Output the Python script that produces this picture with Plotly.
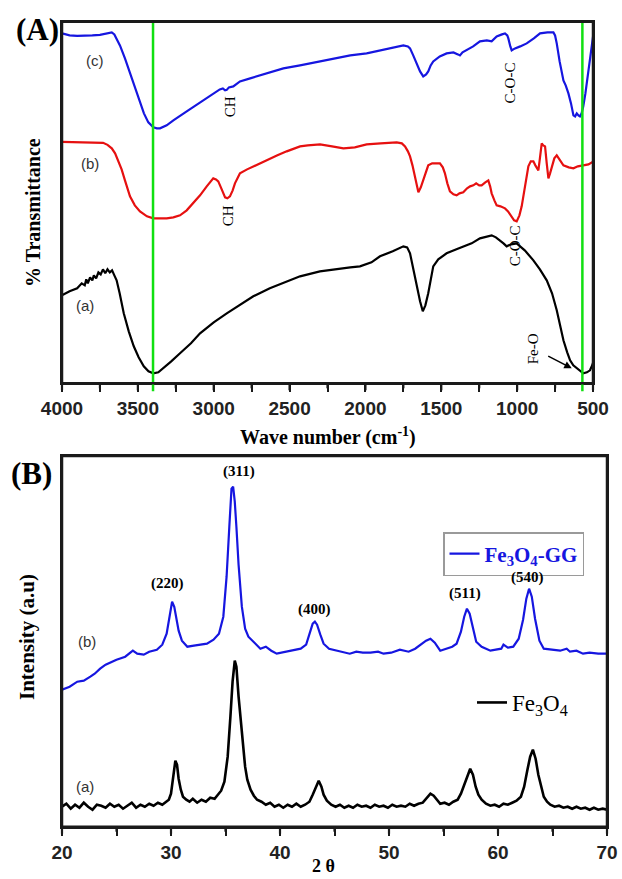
import plotly.graph_objects as go

# ---------------- Panel A : FTIR (arbitrary transmittance units) ----------------
IR_WN_A = [4000, 3950, 3900, 3870, 3850, 3840, 3830, 3815, 3800, 3790, 3775, 3760, 3745, 3730,
           3715, 3700, 3685, 3670, 3655, 3640, 3620, 3593, 3560, 3527, 3495, 3461, 3430, 3398,
           3365, 3332, 3280, 3222, 3150, 3090, 3000, 2914, 2820, 2739, 2630, 2519, 2431, 2300,
           2212, 2100, 2036, 1960, 1904, 1820, 1750, 1725, 1706, 1690, 1675, 1662, 1640, 1622,
           1605, 1586, 1570, 1553, 1520, 1465, 1400, 1333, 1300, 1245, 1200, 1168, 1140, 1113,
           1090, 1069, 1040, 1003, 950, 893, 850, 805, 770, 739, 715, 695, 670, 651, 630, 607,
           585, 564, 540, 520, 505, 497]
IR_T_A = [88, 92, 95, 100, 98, 104, 100, 106, 103, 108, 105, 111, 109, 114,
          110, 114, 111, 113, 108, 103, 90, 70, 52, 37, 26, 17, 12, 10,
          11, 15, 22, 30, 40, 50, 61, 70, 79, 87, 95, 102, 107, 112,
          114, 116, 117, 121, 127, 132, 137, 136, 130, 118, 105, 97, 82, 72,
          78, 90, 105, 117, 124, 130, 134, 138, 140, 145, 147, 148, 146, 143,
          140, 137, 139, 140, 133, 123, 114, 103, 90, 73, 58, 43, 31, 23, 18, 15,
          12, 10, 11, 13, 18, 22]

IR_WN_B = [4000, 3900, 3800, 3729, 3700, 3672, 3650, 3629, 3607, 3585, 3552, 3520, 3486, 3440,
           3398, 3350, 3310, 3266, 3222, 3178, 3134, 3090, 3046, 3020, 3003, 2985, 2970, 2950,
           2925, 2910, 2893, 2875, 2860, 2840, 2827, 2780, 2739, 2700, 2651, 2580, 2519, 2431,
           2380, 2299, 2220, 2145, 2070, 1992, 1900, 1794, 1760, 1739, 1720, 1706, 1690, 1673,
           1660, 1651, 1635, 1619, 1600, 1586, 1560, 1530, 1509, 1490, 1476, 1460, 1443, 1420,
           1399, 1380, 1355, 1330, 1310, 1289, 1270, 1250, 1234, 1210, 1190, 1178, 1168, 1150,
           1135, 1110, 1080, 1060, 1036, 1020, 1003, 985, 970, 950, 926, 910, 893, 880, 860,
           850, 838, 828, 816, 805, 794, 783, 772, 755, 739, 720, 695, 660, 629, 600, 564, 530, 497]
IR_T_B = [241.5, 241, 240.8, 240.5, 238.5, 235, 230, 223, 214, 203, 187, 178, 172, 167,
          165, 165, 165, 166, 168, 173, 180, 188, 197, 202, 205, 204, 202, 195,
          186, 185, 187, 193, 200, 206, 210, 214, 217, 220, 223, 228, 232, 237,
          238, 239, 237, 235, 236, 239, 240, 241, 240, 237, 232, 227, 218, 207,
          196, 191, 196, 203, 212, 218, 220, 220, 220, 216, 210, 200, 192, 189,
          188, 190, 191, 195, 197, 198, 200, 198, 198, 201, 203, 197, 190, 183,
          178, 177, 175, 172, 167, 163, 162, 168, 177, 195, 217, 222, 222, 218, 213,
          225, 240, 238, 237, 220, 205, 210, 217, 225, 228, 224, 218, 216, 215, 217, 218, 219, 222]

IR_WN_C = [4000, 3950, 3900, 3850, 3800, 3750, 3700, 3672, 3655, 3640, 3618, 3585, 3552, 3520,
           3486, 3460, 3431, 3398, 3375, 3354, 3310, 3266, 3178, 3090, 3003, 2960, 2940, 2925,
           2914, 2900, 2871, 2827, 2760, 2695, 2620, 2541, 2431, 2300, 2212, 2100, 1992, 1900,
           1800, 1750, 1720, 1706, 1685, 1662, 1640, 1619, 1600, 1586, 1570, 1553, 1510, 1465,
           1420, 1390, 1377, 1360, 1333, 1290, 1245, 1200, 1168, 1150, 1135, 1100, 1080, 1065,
           1058, 1045, 1036, 1025, 1014, 980, 937, 890, 849, 800, 761, 750, 739, 720, 695, 680,
           662, 645, 629, 618, 607, 596, 586, 575, 564, 550, 531, 515, 497]
IR_T_C = [350, 348, 347.5, 347.5, 348, 348.5, 350, 351, 349, 345, 338, 325, 310, 295,
          280, 270, 261, 256, 255, 255, 258, 263, 272, 281, 290, 294, 295, 293,
          293.5, 296, 297, 302, 305, 308, 312, 315, 318, 322, 325, 328, 330, 333,
          336, 338, 337, 335, 328, 320, 312, 307, 309, 312, 318, 322, 327, 330,
          331, 329, 328, 331, 333, 337, 342, 343, 342, 345, 347, 349, 350, 348,
          345, 337, 333, 334, 335, 337, 340, 345, 350, 351, 351, 348, 340, 322, 303, 298,
          290, 280, 268, 267, 270, 268, 267, 270, 277, 290, 310, 330, 350]

IR_TICK_VALS = [4000, 3750, 3500, 3250, 3000, 2750, 2500, 2250, 2000, 1750, 1500, 1250, 1000, 750, 500]
IR_TICK_TEXT = ["4000", "", "3500", "", "3000", "", "2500", "", "2000", "", "1500", "", "1000", "", "500"]
GREEN_LINES = [3400, 570]

# ---------------- Panel B : XRD (arbitrary intensity units) ----------------
XRD_2T_GG = [20.0, 20.7, 21.4, 22.0, 22.6, 23.0, 23.5, 24.0, 25.0, 25.8, 26.5, 26.9, 27.5, 28.0,
             28.7, 29.2, 29.6, 29.9, 30.1, 30.3, 30.5, 30.7, 31.0, 31.5, 32.1, 32.7, 33.3, 33.9,
             34.4, 34.8, 35.1, 35.35, 35.55, 35.7, 35.85, 36.0, 36.2, 36.5, 36.8, 37.1, 37.6, 38.2,
             38.7, 39.2, 39.7, 40.5, 41.3, 41.9, 42.4, 42.7, 43.0, 43.2, 43.4, 43.7, 44.0, 44.5,
             44.9, 45.6, 46.4, 47.0, 47.6, 48.3, 49.0, 49.5, 50.2, 51.0, 51.8, 52.4, 52.9, 53.4,
             53.8, 54.2, 54.7, 55.3, 55.8, 56.2, 56.6, 56.9, 57.15, 57.4, 57.7, 58.0, 58.5, 59.3,
             59.8, 60.3, 60.5, 60.9, 61.4, 61.9, 62.3, 62.6, 62.85, 63.1, 63.4, 63.8, 64.2, 65.0,
             65.7, 66.3, 66.6, 67.2, 67.8, 68.4, 69.2, 70.0]
XRD_I_GG = [137, 140, 145, 146, 150, 153, 158, 162, 167, 170, 176, 173, 172, 175,
            177, 182, 193, 215, 225, 220, 207, 196, 186, 180, 181, 182, 183, 187,
            193, 210, 250, 300, 338, 340, 325, 300, 262, 220, 198, 190, 185, 178,
            180, 176, 173, 175, 177, 178, 182, 192, 203, 205, 202, 192, 183, 178,
            177, 175, 173, 175, 174, 174, 175, 173, 174, 177, 175, 178, 182, 186,
            188, 184, 176, 178, 180, 183, 195, 210, 218, 213, 198, 185, 180, 176,
            177, 178, 182, 179, 180, 188, 207, 228, 238, 230, 208, 186, 178, 177,
            176, 178, 175, 176, 173, 174, 173, 173]

XRD_2T_FE = [20.0, 20.4, 20.8, 21.2, 21.6, 22.0, 22.4, 22.8, 23.2, 23.6, 24.0, 24.4, 24.8, 25.2,
             25.6, 26.0, 26.4, 26.8, 27.2, 27.6, 28.0, 28.4, 28.8, 29.2, 29.6, 29.8, 30.0, 30.2,
             30.4, 30.55, 30.7, 30.9, 31.1, 31.4, 31.7, 32.0, 32.4, 32.8, 33.2, 33.6, 34.0, 34.3,
             34.6, 34.9, 35.2, 35.45, 35.65, 35.85, 36.0, 36.2, 36.4, 36.6, 36.8, 37.0, 37.3, 37.6,
             37.9, 38.3, 38.7, 39.1, 39.5, 39.9, 40.3, 40.7, 41.1, 41.5, 41.9, 42.3, 42.7, 43.0,
             43.3, 43.55, 43.8, 44.0, 44.3, 44.7, 45.1, 45.5, 45.9, 46.3, 46.7, 47.1, 47.5, 47.9,
             48.3, 48.7, 49.1, 49.5, 49.9, 50.3, 50.7, 51.1, 51.5, 51.9, 52.3, 52.7, 53.1, 53.5,
             53.8, 54.1, 54.4, 54.7, 55.1, 55.5, 55.9, 56.3, 56.6, 56.9, 57.2, 57.45, 57.7, 57.95,
             58.2, 58.5, 58.9, 59.3, 59.7, 60.1, 60.5, 60.9, 61.3, 61.7, 62.1, 62.4, 62.7, 62.95,
             63.2, 63.45, 63.7, 63.95, 64.2, 64.5, 64.8, 65.2, 65.6, 66.0, 66.4, 66.8, 67.2, 67.6,
             68.0, 68.4, 68.8, 69.2, 69.6, 70.0]
XRD_I_FE = [20, 23, 18, 22, 19, 24, 20, 17, 22, 21, 19, 23, 20, 22,
            18, 21, 24, 19, 22, 20, 23, 21, 24, 22, 26, 27, 33, 50,
            66, 62, 48, 37, 30, 27, 25, 28, 24, 27, 25, 29, 28, 32,
            36, 45, 70, 110, 145, 166, 160, 130, 105, 80, 60, 47, 37, 31,
            27, 25, 22, 24, 20, 22, 19, 22, 20, 23, 20, 22, 25, 32,
            40, 46, 40, 32, 26, 22, 20, 22, 19, 21, 19, 22, 20, 21,
            19, 22, 20, 21, 19, 22, 20, 21, 20, 23, 21, 23, 24, 29,
            33, 31, 27, 23, 24, 22, 25, 27, 33, 42, 52, 58, 52, 40,
            32, 27, 23, 21, 22, 20, 23, 22, 24, 26, 30, 40, 57, 70,
            77, 68, 52, 40, 30, 25, 22, 20, 21, 19, 20, 18, 20, 18,
            19, 17, 19, 17, 18, 17]

XRD_TICK_VALS = [20, 25, 30, 35, 40, 45, 50, 55, 60, 65, 70]
XRD_TICK_TEXT = ["20", "", "30", "", "40", "", "50", "", "60", "", "70"]

BLUE = "#1616e0"
RED = "#e61010"
GREEN = "#11e011"
FRAME = "#1a1a1a"

W, H = 622, 879
DOM_AX = [62 / W, 593 / W]
DOM_AY = [1 - 383.3 / H, 1 - 21.7 / H]
DOM_BX = [62 / W, 607 / W]
DOM_BY = [1 - 826.7 / H, 1 - 456 / H]
RANGE_AX = [IR_TICK_VALS[0], IR_TICK_VALS[-1]]
RANGE_BX = [XRD_TICK_VALS[0], XRD_TICK_VALS[-1]]

fig = go.Figure()
fig.add_trace(go.Scatter(x=IR_WN_A, y=IR_T_A, mode="lines", line=dict(color="black", width=2.2),
                         xaxis="x", yaxis="y", showlegend=False))
fig.add_trace(go.Scatter(x=IR_WN_B, y=IR_T_B, mode="lines", line=dict(color=RED, width=2.2),
                         xaxis="x", yaxis="y", showlegend=False))
fig.add_trace(go.Scatter(x=IR_WN_C, y=IR_T_C, mode="lines", line=dict(color=BLUE, width=2.2),
                         xaxis="x", yaxis="y", showlegend=False))
fig.add_trace(go.Scatter(x=XRD_2T_GG, y=XRD_I_GG, mode="lines", line=dict(color=BLUE, width=2.2),
                         xaxis="x2", yaxis="y2", name="<b>Fe<sub>3</sub>O<sub>4</sub>-GG</b>",
                         legend="legend"))
fig.add_trace(go.Scatter(x=XRD_2T_FE, y=XRD_I_FE, mode="lines", line=dict(color="black", width=2.6),
                         xaxis="x2", yaxis="y2", name="Fe<sub>3</sub>O<sub>4</sub>",
                         legend="legend2"))


def to_paper(v, rng, dom):
    return dom[0] + (v - rng[0]) / (rng[1] - rng[0]) * (dom[1] - dom[0])


for v in GREEN_LINES:
    xp = to_paper(v, RANGE_AX, DOM_AX)
    fig.add_shape(type="line", xref="paper", yref="paper", x0=xp, x1=xp,
                  y0=DOM_AY[0] - 8 / H, y1=DOM_AY[1], line=dict(color=GREEN, width=2.5))

# frames (four separate edges) and tick marks
for dx, dy, rng, tvals, ttext in [(DOM_AX, DOM_AY, RANGE_AX, IR_TICK_VALS, IR_TICK_TEXT),
                                  (DOM_BX, DOM_BY, RANGE_BX, XRD_TICK_VALS, XRD_TICK_TEXT)]:
    for (x0, y0, x1, y1) in [(dx[0], dy[0], dx[1], dy[0]), (dx[0], dy[1], dx[1], dy[1]),
                             (dx[0], dy[0], dx[0], dy[1]), (dx[1], dy[0], dx[1], dy[1])]:
        fig.add_shape(type="line", xref="paper", yref="paper", x0=x0, y0=y0, x1=x1, y1=y1,
                      line=dict(color=FRAME, width=2.5))
    for t, lab in zip(tvals, ttext):
        xp = to_paper(t, rng, dx)
        tl = 7 if lab else 5
        fig.add_shape(type="line", xref="paper", yref="paper", x0=xp, x1=xp,
                      y0=dy[0], y1=dy[0] - tl / H, line=dict(color=FRAME, width=2.2))

tickfont = dict(family="Liberation Sans", size=19, color="#222", weight="bold")
axis_common = dict(showline=True, mirror=True, linecolor=FRAME, linewidth=2,
                   showgrid=False, zeroline=False, automargin=False)

fig.update_layout(
    width=W, height=H, autosize=False,
    margin=dict(l=0, r=0, t=0, b=0, autoexpand=False),
    paper_bgcolor="white", plot_bgcolor="white",
    xaxis=dict(domain=DOM_AX, range=RANGE_AX, anchor="y",
               tickmode="array", tickvals=IR_TICK_VALS, ticktext=IR_TICK_TEXT,
               ticks="outside", ticklen=7, tickwidth=2, tickcolor=FRAME, tickfont=tickfont,
               **axis_common),
    yaxis=dict(domain=DOM_AY, range=[0, 361.7], anchor="x",
               showticklabels=False, ticks="", **axis_common),
    xaxis2=dict(domain=DOM_BX, range=RANGE_BX, anchor="y2",
                tickmode="array", tickvals=XRD_TICK_VALS, ticktext=XRD_TICK_TEXT,
                ticks="outside", ticklen=7, tickwidth=2, tickcolor=FRAME, tickfont=tickfont,
                **axis_common),
    yaxis2=dict(domain=DOM_BY, range=[0, 370.7], anchor="x2",
                showticklabels=False, ticks="", **axis_common),
    legend=dict(x=443 / W, y=1 - 532 / H, xanchor="left", yanchor="top",
                bordercolor="#9a9a9a", borderwidth=1.5, bgcolor="white",
                font=dict(family="Liberation Serif", size=21, color=BLUE),
                itemwidth=30, tracegroupgap=0),
    legend2=dict(x=472 / W, y=1 - 681 / H, xanchor="left", yanchor="top",
                 borderwidth=0, bgcolor="rgba(0,0,0,0)",
                 font=dict(family="Liberation Serif", size=23, color="black"),
                 itemwidth=30, tracegroupgap=0),
)

serif_b = dict(family="Liberation Serif", weight="bold", color="black")
C = dict(xanchor="center", yanchor="middle", showarrow=False)
ann = []
ann.append(dict(text="(A)", x=37.5 / W, y=1 - 30 / H, xref="paper", yref="paper",
                font=dict(size=31, **serif_b), **C))
ann.append(dict(text="(B)", x=31.5 / W, y=1 - 473 / H, xref="paper", yref="paper",
                font=dict(size=31, **serif_b), **C))
ann.append(dict(text="% Transmittance", x=33 / W, y=1 - 213 / H, xref="paper", yref="paper",
                textangle=-90, font=dict(size=20, **serif_b), **C))
ann.append(dict(text="Intensity (a.u)", x=27 / W, y=1 - 637 / H, xref="paper", yref="paper",
                textangle=-90, font=dict(size=21, **serif_b), **C))
ann.append(dict(text="Wave number (cm<sup>-1</sup>)", x=328 / W, y=1 - 436 / H,
                xref="paper", yref="paper", font=dict(size=20, **serif_b), **C))
ann.append(dict(text="2 θ", x=323 / W, y=1 - 866 / H, xref="paper", yref="paper",
                font=dict(size=18, **serif_b), **C))

sans_lbl = dict(family="Liberation Sans", size=15, color="#333")
serif_lbl = dict(family="Liberation Serif", size=15, color="black")
for t, x, y in [("(c)", 3782, 323), ("(b)", 3815, 220), ("(a)", 3848, 78)]:
    ann.append(dict(text=t, x=x, y=y, xref="x", yref="y", font=sans_lbl, **C))
for t, x, y in [("CH", 2893, 277), ("CH", 2906, 168), ("C-O-C", 1047, 300),
                ("C-O-C", 1014, 137), ("Fe-O", 896, 35)]:
    ann.append(dict(text=t, x=x, y=y, xref="x", yref="y", textangle=-90, font=serif_lbl, **C))
ann.append(dict(text="", x=640, y=15, xref="x", yref="y", ax=805, ay=28, axref="x", ayref="y",
                showarrow=True, arrowhead=2, arrowsize=1, arrowwidth=1.5, arrowcolor="black"))

for t, x, y in [("(b)", 22.3, 185), ("(a)", 22.1, 40)]:
    ann.append(dict(text=t, x=x, y=y, xref="x2", yref="y2", font=sans_lbl, **C))
for t, x, y in [("(220)", 29.7, 243), ("(311)", 36.2, 355), ("(400)", 43.2, 217),
                ("(511)", 57.0, 233), ("(540)", 62.7, 249)]:
    ann.append(dict(text=t, x=x, y=y, xref="x2", yref="y2", font=dict(size=15, **serif_b), **C))

fig.update_layout(annotations=ann)
fig.write_html("out.html")
